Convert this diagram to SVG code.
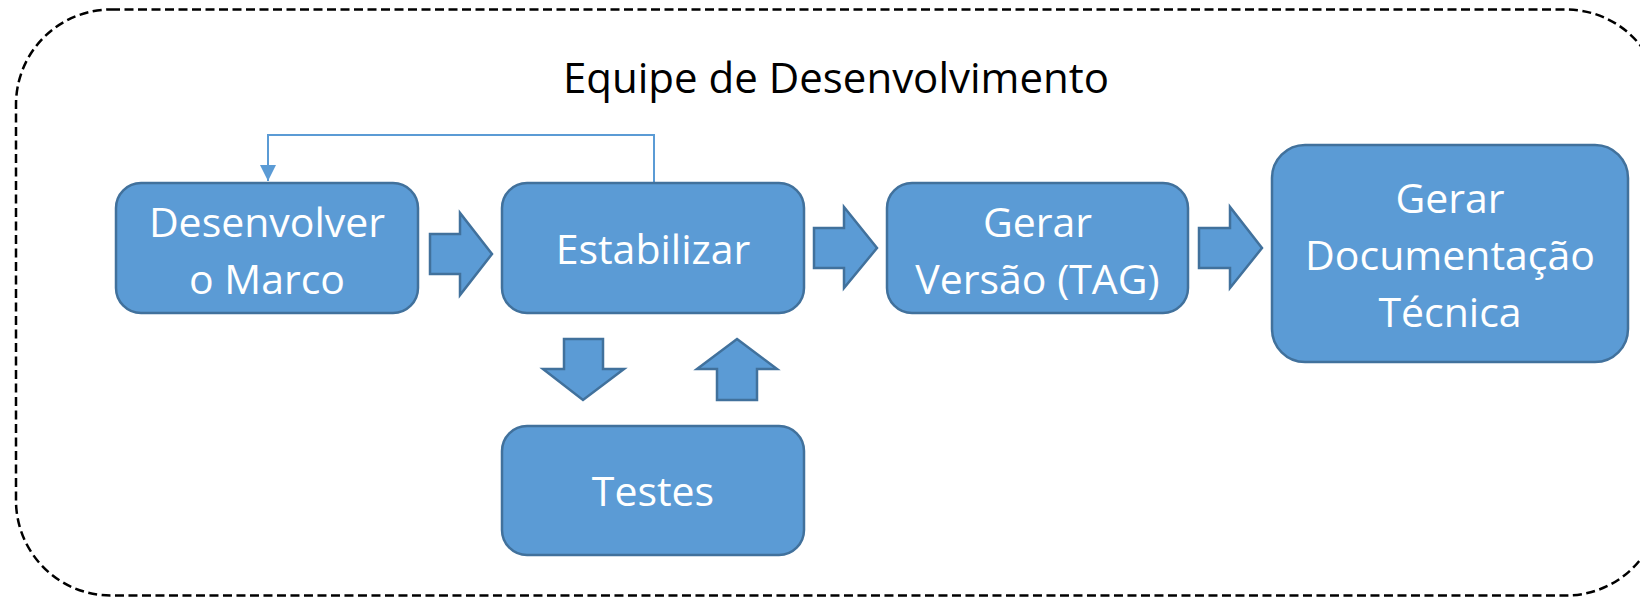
<svg xmlns="http://www.w3.org/2000/svg" width="1640" height="597" viewBox="0 0 1640 597">
<style>
.box{fill:#5B9BD5;stroke:#41719C;stroke-width:2.5}
.barrow{fill:#5B9BD5;stroke:#41719C;stroke-width:2.5;stroke-linejoin:miter}
.lbl{font-family:"Open Sans","Noto Sans","DejaVu Sans",sans-serif;font-size:41px;fill:#FFFFFF;text-anchor:middle}
.title{font-family:"Open Sans","Noto Sans","DejaVu Sans",sans-serif;font-size:42px;fill:#000000;text-anchor:middle}
.feed{fill:none;stroke:#5B9BD5;stroke-width:2}
</style>
<defs>
<marker id="ah" viewBox="0 0 10 10" refX="10" refY="5" markerWidth="8" markerHeight="8" markerUnits="strokeWidth" orient="auto">
<path d="M0,0 L10,5 L0,10 Z" fill="#5B9BD5"/>
</marker>
</defs>
<rect width="1640" height="597" fill="#FFFFFF"/>
<g id="container">
<rect x="16" y="9.5" width="1645" height="586" rx="95" ry="95" fill="none" stroke="#000000" stroke-width="2.5" stroke-dasharray="9 4.5"/>
<text class="title" x="836" y="93">Equipe de Desenvolvimento</text>
</g>
<g id="connectors">
<polyline class="feed" points="654,183 654,135 268,135 268,181" marker-end="url(#ah)"/>
<polygon class="barrow" points="430,234 460,234 460,213 492,254 460,295 460,274 430,274"/>
<polygon class="barrow" points="814,228 844,228 844,207 877,248 844,288 844,268 814,268"/>
<polygon class="barrow" points="1199,228 1230,228 1230,207 1262,248 1230,288 1230,268 1199,268"/>
<polygon class="barrow" points="564,339 603,339 603,369 624,369 583,400 543,369 564,369"/>
<polygon class="barrow" points="737,339 777,369 757,369 757,400 717,400 717,369 697,369"/>
</g>
<g id="desenvolver">
<rect class="box" x="116" y="183" width="302" height="130" rx="25" ry="25"/>
<text class="lbl" x="267" y="237">Desenvolver</text>
<text class="lbl" x="267" y="294">o Marco</text>
</g>
<g id="estabilizar">
<rect class="box" x="502" y="183" width="302" height="130" rx="25" ry="25"/>
<text class="lbl" x="653" y="264">Estabilizar</text>
</g>
<g id="gerar-versao">
<rect class="box" x="887" y="183" width="301" height="130" rx="25" ry="25"/>
<text class="lbl" x="1037.5" y="237">Gerar</text>
<text class="lbl" x="1037.5" y="294">Versão (TAG)</text>
</g>
<g id="gerar-documentacao">
<rect class="box" x="1272" y="145" width="356" height="217" rx="33" ry="33"/>
<text class="lbl" x="1450" y="213">Gerar</text>
<text class="lbl" x="1450" y="270">Documentação</text>
<text class="lbl" x="1450" y="327">Técnica</text>
</g>
<g id="testes">
<rect class="box" x="502" y="426" width="302" height="129" rx="25" ry="25"/>
<text class="lbl" x="653" y="506">Testes</text>
</g>
</svg>
